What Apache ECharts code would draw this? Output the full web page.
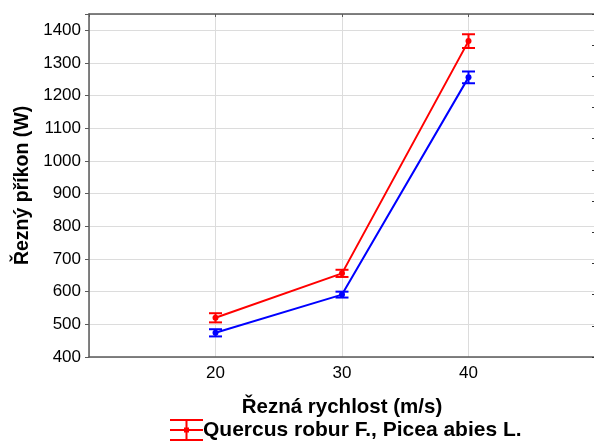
<!DOCTYPE html>
<html>
<head>
<meta charset="utf-8">
<script src="https://cdn.jsdelivr.net/npm/echarts@6/dist/echarts.min.js"></script>
<style>
  html, body { margin: 0; padding: 0; background: #fff; }
  #chart { width: 594px; height: 444px; }
</style>
</head>
<body>
<div id="chart"></div>
<script>
// řezná rychlost (m/s)
const speeds = [20, 30, 40]
// červená řada: průměr a chyba
const redMean = [520, 656, 1367]
const redErr = [14, 11, 21]
// modrá řada
const blueMean = [474, 591, 1256]
const blueErr = [11, 9, 18]
const legendName = 'Quercus robur F., Picea abies L.'

const FONT = '"Liberation Sans", Arial, sans-serif'
const AXIS = '#5a5a5a'
const GRID = '#dcdcdc'

const pts = (mean) => speeds.map((s, i) => [s, mean[i]])
const bars = (mean, err) => speeds.map((s, i) => [s, mean[i] - err[i], mean[i] + err[i], mean[i]])

// chybová úsečka: svislice, dvě krytky, bod
function errBar(color) {
  return (params, api) => {
    const lo = api.coord([api.value(0), api.value(1)])
    const hi = api.coord([api.value(0), api.value(2)])
    const mid = api.coord([api.value(0), api.value(3)])
    const w = 6.5
    const st = { stroke: color, lineWidth: 2 }
    return { type: 'group', children: [
      { type: 'line', shape: { x1: lo[0], y1: lo[1], x2: hi[0], y2: hi[1] }, style: st },
      { type: 'line', shape: { x1: lo[0] - w, y1: lo[1], x2: lo[0] + w, y2: lo[1] }, style: st },
      { type: 'line', shape: { x1: hi[0] - w, y1: hi[1], x2: hi[0] + w, y2: hi[1] }, style: st },
      { type: 'circle', shape: { cx: mid[0], cy: mid[1], r: 3 }, style: { fill: color } },
    ] }
  }
}

const chart = echarts.init(document.getElementById('chart'))
chart.setOption({
  animation: false,
  textStyle: { fontFamily: FONT },
  grid: { left: 89, top: 14, right: -1, bottom: 87, outerBoundsMode: 'none' },
  legend: {
    data: [{ name: legendName,
      icon: 'path://M0,0H33V2H0Z M0,10H33V12H0Z M0,20H33V22H0Z M15.5,0H17.5V22H15.5Z M14,8.5H19V13.5H14Z' }],
    left: 165, top: 414, itemWidth: 33, itemHeight: 22, itemGap: 5,
    textStyle: { fontFamily: FONT, fontSize: 21, fontWeight: 'bold', color: '#000', padding: [0, 0, 0, -5] },
  },
  xAxis: [{
    type: 'value', min: 10, max: 50, interval: 10,
    name: 'Řezná rychlost (m/s)', nameLocation: 'middle', nameGap: 40,
    nameTextStyle: { fontFamily: FONT, fontSize: 20.5, fontWeight: 'bold', color: '#000' },
    axisLine: { lineStyle: { color: AXIS, width: 1.5 } },
    axisTick: { show: false },
    axisLabel: { color: '#000', fontSize: 17, margin: 8,
      formatter: v => (speeds.includes(v) ? String(v) : '') },
    splitLine: { lineStyle: { color: GRID, width: 1 } },
  }, {
    type: 'value', position: 'top', min: 10, max: 50, interval: 10,
    axisLine: { lineStyle: { color: AXIS, width: 1.5 } },
    axisTick: { inside: true, length: 3, lineStyle: { color: AXIS } },
    axisLabel: { show: false }, splitLine: { show: false },
  }],
  yAxis: [{
    type: 'value', min: 400, max: 1450, interval: 100,
    name: 'Řezný příkon (W)', nameLocation: 'middle', nameGap: 54,
    nameTextStyle: { fontFamily: FONT, fontSize: 19.5, fontWeight: 'bold', color: '#000' },
    axisLine: { show: true, lineStyle: { color: AXIS, width: 1.5 } },
    axisTick: { length: 4, lineStyle: { color: AXIS } },
    axisLabel: { color: '#000', fontSize: 17, margin: 8,
      formatter: v => (v <= 1400 ? String(v) : '') },
    splitLine: { lineStyle: { color: GRID, width: 1 } },
  }, {
    type: 'value', position: 'right', min: 0, max: 11, interval: 1,
    axisLine: { show: true, lineStyle: { color: AXIS, width: 1.5 } },
    axisTick: { inside: true, length: 3, lineStyle: { color: '#333' } },
    axisLabel: { show: false }, splitLine: { show: false },
  }],
  series: [
    { name: legendName, type: 'line', data: pts(redMean), symbol: 'none',
      lineStyle: { color: '#ff0000', width: 2 }, itemStyle: { color: '#ff0000' } },
    { name: 'blue', type: 'line', data: pts(blueMean), symbol: 'none',
      lineStyle: { color: '#0000ff', width: 2 }, itemStyle: { color: '#0000ff' } },
    { name: 'redErr', type: 'custom', data: bars(redMean, redErr),
      renderItem: errBar('#ff0000'), encode: { x: 0, y: [1, 2] }, z: 3 },
    { name: 'blueErr', type: 'custom', data: bars(blueMean, blueErr),
      renderItem: errBar('#0000ff'), encode: { x: 0, y: [1, 2] }, z: 3 },
  ],
})
</script>
</body>
</html>
